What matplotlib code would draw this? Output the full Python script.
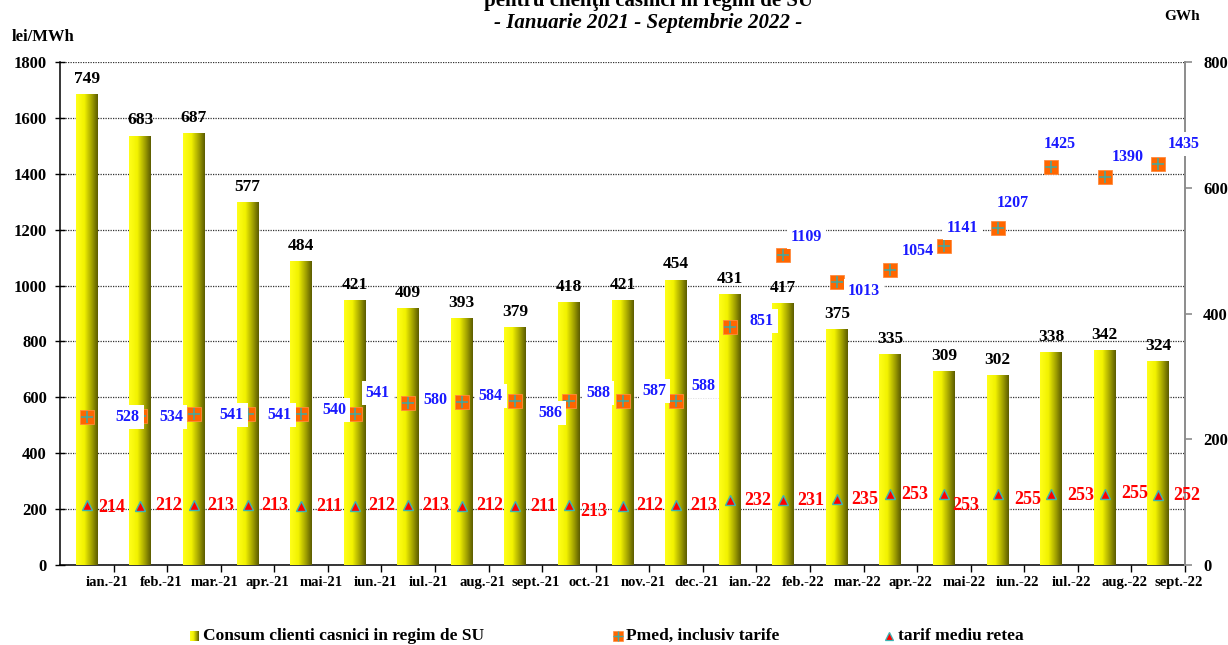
import numpy as np
import matplotlib
matplotlib.use("Agg")
import matplotlib.pyplot as plt
from matplotlib.colors import LinearSegmentedColormap

# ---- data -------------------------------------------------------------
luni = ["ian.-21", "feb.-21", "mar.-21", "apr.-21", "mai-21", "iun.-21",
        "iul.-21", "aug.-21", "sept.-21", "oct.-21", "nov.-21", "dec.-21",
        "ian.-22", "feb.-22", "mar.-22", "apr.-22", "mai-22", "iun.-22",
        "iul.-22", "aug.-22", "sept.-22"]
consum_gwh = [749, 683, 687, 577, 484, 421, 409, 393, 379, 418, 421, 454,
              431, 417, 375, 335, 309, 302, 338, 342, 324]
pmed = [528, 534, 541, 541, 540, 541, 580, 584, 586, 588, 587, 588,
        851, 1109, 1013, 1054, 1141, 1207, 1425, 1390, 1435]
tarif = [214, 212, 213, 213, 211, 212, 213, 212, 211, 213, 212, 213,
         232, 231, 235, 253, 253, 255, 253, 255, 252]

lei_ticks = list(range(0, 1801, 200))
gwh_ticks = list(range(0, 801, 200))

# ---- label placement (pixel offsets from each marker: right, down) ----
pmed_lbl_off = [(41, 0), (31, 1), (38, 1), (32, 1), (33, -4), (23, -21),
                (27, -3), (29, -6), (35, 12), (29, -8), (32, -10), (27, -15),
                (32, -6), (23, -18), (27, 9), (27, -19), (19, -18),
                (15, -25), (9, -23), (23, -20), (25, -20)]
tarif_lbl_off = [(25, 2), (28, 0), (27, 0), (27, 0), (28, 0), (27, 0),
                 (28, 0), (28, 0), (28, 0), (25, 6), (27, 0), (28, 0),
                 (28, 0), (28, 0), (28, 0), (24, 0), (22, 11), (30, 6),
                 (30, 1), (30, 0), (29, 1)]

plt.rcParams["font.family"] = ["Liberation Serif", "DejaVu Serif"]
plt.rcParams["font.weight"] = "bold"

W, H = 1228, 645
fig = plt.figure(figsize=(W / 100, H / 100), dpi=100)
L, R, T, B = 60, 1185, 62, 565
rect = [L / W, 1 - B / H, (R - L) / W, (B - T) / H]

ax_lei = fig.add_axes(rect)      # left scale, grid
ax_gwh = ax_lei.twinx()          # right scale, bars
ax_pts = ax_lei.twinx()          # left scale, price markers on top

x = np.arange(len(luni))
xlim = (-0.5, len(luni) - 0.5)

# ---- gradient bars ----------------------------------------------------
bar_cmap = LinearSegmentedColormap.from_list(
    "bar", [(0.0, "#FFFF1A"), (0.38, "#F2F200"), (0.7, "#A8A800"), (1.0, "#5C5C00")])
grad = np.linspace(0, 1, 64).reshape(1, -1)
bars = ax_gwh.bar(x, consum_gwh, width=0.41, color="none", edgecolor="none", zorder=2)
for patch in bars.patches:
    x0, w, h = patch.get_x(), patch.get_width(), patch.get_height()
    im = ax_gwh.imshow(grad, cmap=bar_cmap, aspect="auto", zorder=2,
                       extent=(x0, x0 + w, 0, h), interpolation="bilinear")
    im.set_clip_path(patch)
for xi, v in zip(x, consum_gwh):
    ax_gwh.annotate(str(v), (xi, v), xytext=(0, 8), textcoords="offset points",
                    ha="center", va="baseline", fontsize=12.5, color="black",
                    fontweight="bold")

# ---- price markers ----------------------------------------------------
ax_pts.plot(x, pmed, ls="none", marker="s", ms=10, mfc="#FF6600",
            mec="#FF8A3D", mew=0.6, zorder=4)
ax_pts.plot(x, pmed, ls="none", marker="+", ms=9, color="#3FA9A3",
            mew=1.1, zorder=5)
ax_pts.plot(x, tarif, ls="none", marker="^", ms=6.5, mfc="#FF0000",
            mec="#3CB4B4", mew=1.0, zorder=4)

for xi, v, (dx, dy) in zip(x, pmed, pmed_lbl_off):
    ax_pts.annotate(str(v), (xi, v), xytext=(dx * 0.72, -dy * 0.72),
                    textcoords="offset points", ha="center", va="center",
                    fontsize=11.5, color="#1A1AFF", fontweight="bold", zorder=6,
                    bbox=dict(boxstyle="square,pad=0.25", fc="white", ec="none"))
for xi, v, (dx, dy) in zip(x, tarif, tarif_lbl_off):
    ax_pts.annotate(str(v), (xi, v), xytext=(dx * 0.72, -dy * 0.72),
                    textcoords="offset points", ha="center", va="center",
                    fontsize=13, color="#FF0000", fontweight="bold", zorder=6)

# ---- axes styling -----------------------------------------------------
for a in (ax_lei, ax_gwh, ax_pts):
    a.set_xlim(*xlim)
ax_lei.set_ylim(0, 1800)
ax_pts.set_ylim(0, 1800)
ax_gwh.set_ylim(0, 800)

ax_lei.set_yticks(lei_ticks)
ax_lei.set_yticklabels([str(t) for t in lei_ticks], fontsize=12, fontweight="bold")
ax_lei.tick_params(axis="y", direction="inout", length=7, width=1, pad=6)
ax_lei.grid(axis="y", color="#333333", ls=(0, (1, 1)), lw=0.9)
ax_lei.set_axisbelow(True)

ax_lei.set_xticks(x + 0.38)
ax_lei.set_xticklabels(luni, fontsize=10.5, fontweight="bold")
ax_lei.tick_params(axis="x", which="major", length=0, pad=8)
ax_lei.set_xticks(np.arange(0.5, len(luni), 1), minor=True)
ax_lei.tick_params(axis="x", which="minor", direction="out", length=5, width=1)

for s in ("top", "right"):
    ax_lei.spines[s].set_visible(False)
for s in ("left", "bottom"):
    ax_lei.spines[s].set_color("black")
    ax_lei.spines[s].set_linewidth(1.1)

ax_gwh.set_yticks(gwh_ticks)
ax_gwh.set_yticklabels([str(t) for t in gwh_ticks], fontsize=12, fontweight="bold")
ax_gwh.tick_params(axis="y", direction="out", length=5, width=1.2,
                   color="#8C8C8C", pad=8)
for s in ("top", "left", "bottom"):
    ax_gwh.spines[s].set_visible(False)
ax_gwh.spines["right"].set_color("#8C8C8C")
ax_gwh.spines["right"].set_linewidth(1.4)

ax_pts.set_yticks([])
for s in ax_pts.spines.values():
    s.set_visible(False)

# ---- titles and unit labels ------------------------------------------
fig.text(648 / W, 1 - 1 / H, "pentru clienţii casnici in regim de SU",
         ha="center", va="center", fontsize=15, fontweight="bold")
fig.text(648 / W, 1 - 23 / H, "- Ianuarie 2021 - Septembrie 2022 -",
         ha="center", va="center", fontsize=15, fontweight="bold", style="italic")
fig.text(12 / W, 1 - 37 / H, "lei/MWh", ha="left", va="center",
         fontsize=12, fontweight="bold")
fig.text(1200 / W, 1 - 17 / H, "GWh", ha="right", va="center",
         fontsize=11, fontweight="bold")

# ---- legend -----------------------------------------------------------
ax_leg = fig.add_axes([0, 0, 1, 1], zorder=10)
ax_leg.set_xlim(0, W)
ax_leg.set_ylim(H, 0)
ax_leg.axis("off")
ly = 636
ax_leg.imshow(grad, cmap=bar_cmap, aspect="auto", extent=(190, 199, ly + 5, ly - 5),
              interpolation="bilinear")
ax_leg.text(203, ly, "Consum clienti casnici in regim de SU", ha="left", va="center",
            fontsize=12.5, fontweight="bold")
ax_leg.plot([618], [ly], marker="s", ms=7.5, mfc="#FF6600", mec="#FF8A3D", mew=0.5)
ax_leg.plot([618], [ly], marker="+", ms=7, color="#3FA9A3", mew=1)
ax_leg.text(626, ly, "Pmed, inclusiv tarife", ha="left", va="center",
            fontsize=12.5, fontweight="bold")
ax_leg.plot([889], [ly], marker="^", ms=6, mfc="#FF0000", mec="#3CB4B4", mew=0.9)
ax_leg.text(898, ly, "tarif mediu retea", ha="left", va="center",
            fontsize=12.5, fontweight="bold")

fig.savefig("out.png", dpi=100)
